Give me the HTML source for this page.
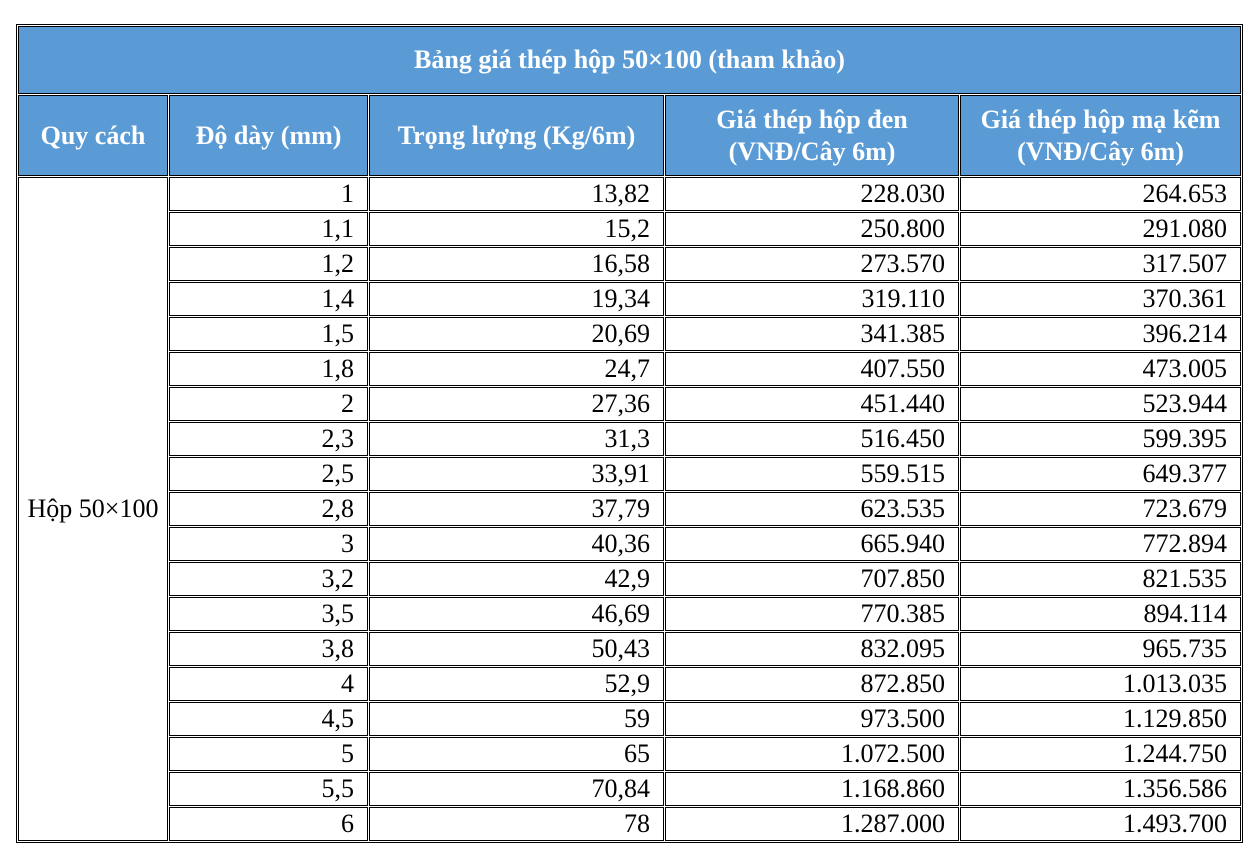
<!DOCTYPE html>
<html><head><meta charset="utf-8"><style>
body{margin:0;background:#fff;}
table{position:absolute;left:16px;top:24px;border:1px solid #000;border-spacing:1px;border-collapse:separate;table-layout:fixed;font-family:"Liberation Serif","Times New Roman",serif;font-size:26px;color:#000;}
td,th{border:1px solid #000;box-sizing:border-box;padding:0 13px 0 4px;overflow:hidden;white-space:nowrap;}
th{background:#5b9bd5;color:#fff;font-weight:bold;text-align:center;padding:0 2px;line-height:32px;}
td{text-align:right;height:34px;line-height:32px;}
tr.t th{height:68px;}
tr.h th{height:81px;}
td.q{text-align:center;padding:0;}
</style></head><body>
<table>
<colgroup><col style="width:150px"><col style="width:199px"><col style="width:295px"><col style="width:294px"><col style="width:281px"></colgroup>
<tr class="t"><th colspan="5">Bảng giá thép hộp 50×100 (tham khảo)</th></tr>
<tr class="h"><th>Quy cách</th><th>Độ dày (mm)</th><th>Trọng lượng (Kg/6m)</th><th>Giá thép hộp đen<br>(VNĐ/Cây 6m)</th><th>Giá thép hộp mạ kẽm<br>(VNĐ/Cây 6m)</th></tr>
<tr><td class="q" rowspan="19">Hộp 50×100</td><td>1</td><td>13,82</td><td>228.030</td><td>264.653</td></tr>
<tr><td>1,1</td><td>15,2</td><td>250.800</td><td>291.080</td></tr>
<tr><td>1,2</td><td>16,58</td><td>273.570</td><td>317.507</td></tr>
<tr><td>1,4</td><td>19,34</td><td>319.110</td><td>370.361</td></tr>
<tr><td>1,5</td><td>20,69</td><td>341.385</td><td>396.214</td></tr>
<tr><td>1,8</td><td>24,7</td><td>407.550</td><td>473.005</td></tr>
<tr><td>2</td><td>27,36</td><td>451.440</td><td>523.944</td></tr>
<tr><td>2,3</td><td>31,3</td><td>516.450</td><td>599.395</td></tr>
<tr><td>2,5</td><td>33,91</td><td>559.515</td><td>649.377</td></tr>
<tr><td>2,8</td><td>37,79</td><td>623.535</td><td>723.679</td></tr>
<tr><td>3</td><td>40,36</td><td>665.940</td><td>772.894</td></tr>
<tr><td>3,2</td><td>42,9</td><td>707.850</td><td>821.535</td></tr>
<tr><td>3,5</td><td>46,69</td><td>770.385</td><td>894.114</td></tr>
<tr><td>3,8</td><td>50,43</td><td>832.095</td><td>965.735</td></tr>
<tr><td>4</td><td>52,9</td><td>872.850</td><td>1.013.035</td></tr>
<tr><td>4,5</td><td>59</td><td>973.500</td><td>1.129.850</td></tr>
<tr><td>5</td><td>65</td><td>1.072.500</td><td>1.244.750</td></tr>
<tr><td>5,5</td><td>70,84</td><td>1.168.860</td><td>1.356.586</td></tr>
<tr><td>6</td><td>78</td><td>1.287.000</td><td>1.493.700</td></tr>
</table>
</body></html>
